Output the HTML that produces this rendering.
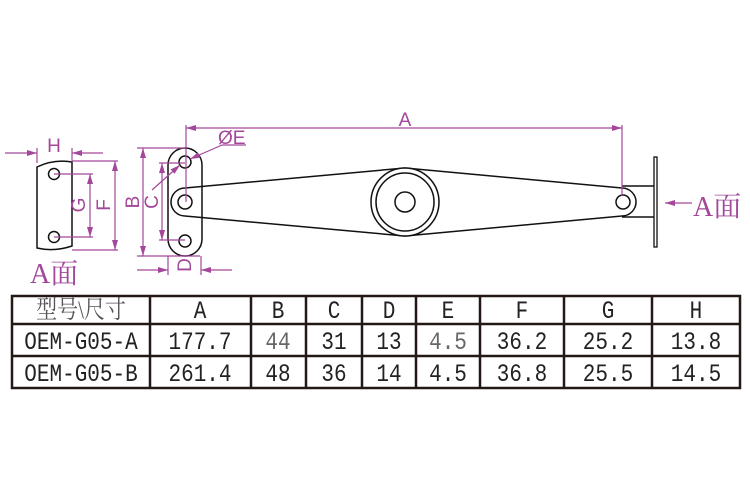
<!DOCTYPE html>
<html><head><meta charset="utf-8"><style>
html,body{margin:0;padding:0;background:#fff;width:750px;height:500px;overflow:hidden}
</style></head><body>
<svg width="750" height="500" viewBox="0 0 750 500" xmlns="http://www.w3.org/2000/svg">
<defs>
<marker id="ar" viewBox="0 0 10 6" refX="10" refY="3" markerWidth="10" markerHeight="6" orient="auto" markerUnits="userSpaceOnUse">
<path d="M0,0 L10,3 L0,6 z" fill="#a3479b"/></marker>
</defs>
<g fill="none" stroke="#111" stroke-width="1.5">
<path d="M37,167 Q54,159 72,162 L72,246 Q54,252 37,248 Z"/>
<circle cx="54" cy="174" r="5.5"/><circle cx="54" cy="237" r="5.5"/>
<rect x="168" y="148" width="34" height="108" rx="17"/>
<circle cx="185" cy="162" r="6"/><circle cx="185" cy="241" r="6"/>
<path d="M185,188 L405,168 M185,216 L405,236 M185,188 A14,14 0 0 0 185,216" />
<path d="M405,168 L622,188 A14,14 0 0 1 622,216 L405,236"/>
<circle cx="185" cy="202" r="7"/>
<circle cx="405" cy="202" r="34" fill="#fff"/>
<circle cx="405" cy="202" r="29"/>
<circle cx="405" cy="202" r="10"/>
<circle cx="623" cy="202" r="7"/>
<path d="M622,186 L654,186 M622,217 L654,217"/>
<rect x="654" y="157" width="3" height="90" stroke-width="1.3"/>
</g>
<g fill="none" stroke="#a3479b" stroke-width="1.2">
<line x1="5" y1="153" x2="37" y2="153" marker-end="url(#ar)"/>
<line x1="103" y1="153" x2="72" y2="153" marker-end="url(#ar)"/>
<line x1="37" y1="148" x2="37" y2="163"/><line x1="72" y1="148" x2="72" y2="162"/>
<line x1="72" y1="161" x2="118" y2="161"/><line x1="72" y1="250" x2="118" y2="250"/>
<line x1="115" y1="205" x2="115" y2="161" marker-end="url(#ar)"/>
<line x1="115" y1="205" x2="115" y2="250" marker-end="url(#ar)"/>
<line x1="54" y1="174" x2="93" y2="174"/><line x1="54" y1="237" x2="93" y2="237"/>
<line x1="90" y1="205" x2="90" y2="174" marker-end="url(#ar)"/>
<line x1="90" y1="205" x2="90" y2="237" marker-end="url(#ar)"/>
<line x1="137" y1="148" x2="185" y2="148"/><line x1="137" y1="256" x2="200" y2="256"/>
<line x1="143" y1="202" x2="143" y2="148" marker-end="url(#ar)"/>
<line x1="143" y1="202" x2="143" y2="256" marker-end="url(#ar)"/>
<line x1="159" y1="163" x2="185" y2="163"/><line x1="159" y1="240" x2="185" y2="240"/>
<line x1="162" y1="202" x2="162" y2="163" marker-end="url(#ar)"/>
<line x1="162" y1="202" x2="162" y2="240" marker-end="url(#ar)"/>
<line x1="168" y1="256" x2="168" y2="275"/><line x1="201" y1="256" x2="201" y2="275"/>
<line x1="137" y1="270" x2="168" y2="270" marker-end="url(#ar)"/>
<line x1="232" y1="270" x2="201" y2="270" marker-end="url(#ar)"/>
<line x1="186" y1="125" x2="186" y2="202"/><line x1="622" y1="125" x2="622" y2="196"/>
<line x1="400" y1="128" x2="186" y2="128" marker-end="url(#ar)"/>
<line x1="400" y1="128" x2="622" y2="128" marker-end="url(#ar)"/>
<line x1="246" y1="145" x2="222" y2="145"/>
<line x1="222" y1="145" x2="190" y2="159" marker-end="url(#ar)"/>
<line x1="152" y1="190" x2="180" y2="165" marker-end="url(#ar)"/>
<line x1="692" y1="203" x2="665" y2="203" marker-end="url(#ar)"/>
</g>
<g fill="#a3479b" font-family="Liberation Sans, sans-serif" font-size="19">
<text x="54" y="152" text-anchor="middle">H</text>
<text x="405" y="126" text-anchor="middle">A</text>
<text x="218" y="144">ØE</text>
<text transform="translate(110,205) rotate(-90)" text-anchor="middle">F</text>
<text transform="translate(85,205) rotate(-90)" text-anchor="middle">G</text>
<text transform="translate(139,202) rotate(-90)" text-anchor="middle">B</text>
<text transform="translate(158,202) rotate(-90)" text-anchor="middle">C</text>
<text transform="translate(191,265) rotate(-90)" text-anchor="middle">D</text>
<text x="30" y="283" font-family="Liberation Serif, Noto Serif CJK SC, serif" font-size="28">A面</text>
<text x="693" y="216" font-family="Liberation Serif, Noto Serif CJK SC, serif" font-size="28">A面</text>
</g>
<g stroke="#231815" stroke-width="2.5" fill="none">
<rect x="12" y="296" width="728" height="92"/>
<line x1="12" y1="324" x2="740" y2="324"/><line x1="12" y1="356" x2="740" y2="356"/>
<line x1="150" y1="296" x2="150" y2="388"/><line x1="251" y1="296" x2="251" y2="388"/>
<line x1="306" y1="296" x2="306" y2="388"/><line x1="362" y1="296" x2="362" y2="388"/>
<line x1="416" y1="296" x2="416" y2="388"/><line x1="480" y1="296" x2="480" y2="388"/>
<line x1="564" y1="296" x2="564" y2="388"/><line x1="652" y1="296" x2="652" y2="388"/>
</g>
<g fill="#222" font-family="Liberation Mono, Noto Sans CJK SC, monospace" font-size="21" text-anchor="middle">
<g transform="matrix(1,0,0,1.2,0,-63.6)">
<text x="81" y="318" font-family="Liberation Serif, Noto Serif CJK SC, serif" font-size="21" fill="#555">型号\尺寸</text>
<text x="200" y="318">A</text><text x="278" y="318">B</text><text x="334" y="318">C</text>
<text x="389" y="318">D</text><text x="448" y="318">E</text><text x="522" y="318">F</text>
<text x="608" y="318">G</text><text x="696" y="318">H</text>
</g>
<g transform="matrix(1,0,0,1.2,0,-69.8)">
<text x="81" y="349">OEM-G05-A</text>
<text x="200" y="349">177.7</text><text x="278" y="349" fill="#666">44</text><text x="334" y="349">31</text>
<text x="389" y="349">13</text><text x="448" y="349" fill="#666">4.5</text><text x="522" y="349">36.2</text>
<text x="608" y="349">25.2</text><text x="696" y="349">13.8</text>
</g>
<g transform="matrix(1,0,0,1.2,0,-76.2)">
<text x="81" y="381">OEM-G05-B</text>
<text x="200" y="381">261.4</text><text x="278" y="381">48</text><text x="334" y="381">36</text>
<text x="389" y="381">14</text><text x="448" y="381">4.5</text><text x="522" y="381">36.8</text>
<text x="608" y="381">25.5</text><text x="696" y="381">14.5</text>
</g>
</g>
</svg>
</body></html>
